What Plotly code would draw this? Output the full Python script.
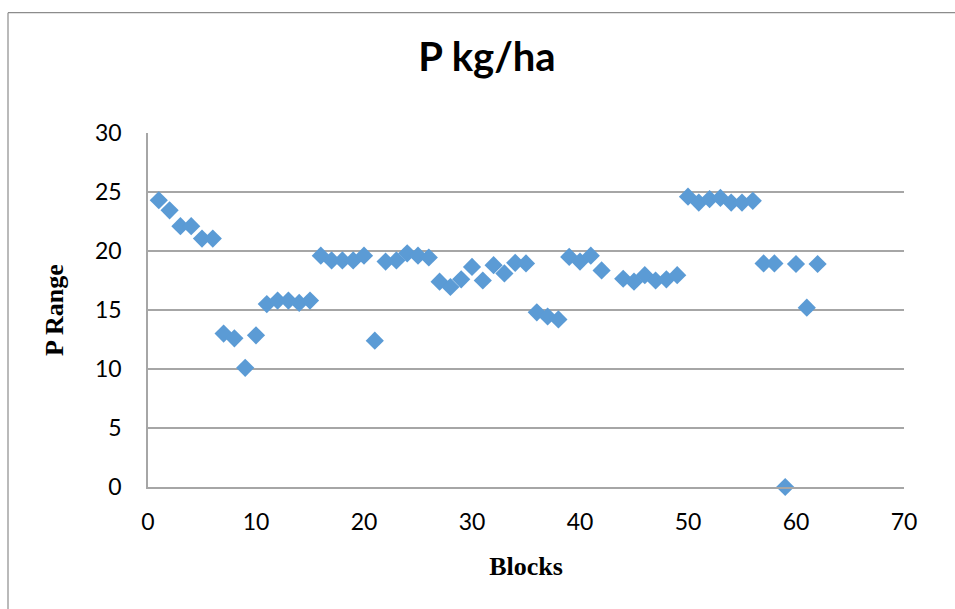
import plotly.graph_objects as go

blocks = [1, 2, 3, 4, 5, 6, 7, 8, 9, 10, 11, 12, 13, 14, 15, 16, 17, 18, 19, 20,
          21, 22, 23, 24, 25, 26, 27, 28, 29, 30, 31, 32, 33, 34, 35, 36, 37, 38, 39, 40,
          41, 42, 44, 45, 46, 47, 48, 49, 50, 51, 52, 53, 54, 55, 56, 57, 58, 59, 60,
          61, 62]
p_range = [24.3, 23.45, 22.1, 22.1, 21.05, 21.05, 13.0, 12.6, 10.1, 12.85,
           15.5, 15.8, 15.8, 15.6, 15.8, 19.6, 19.2, 19.2, 19.2, 19.6,
           12.4, 19.1, 19.2, 19.8, 19.6, 19.45, 17.4, 16.95, 17.6, 18.65,
           17.5, 18.8, 18.1, 19.0, 18.95, 14.8, 14.45, 14.2, 19.5, 19.1,
           19.6, 18.35, 17.65, 17.4, 17.95, 17.5, 17.6, 17.95, 24.6, 24.1,
           24.4, 24.5, 24.1, 24.1, 24.25, 18.95, 18.95, 0.0, 18.9, 15.2, 18.9]

title_text = "P kg/ha"
x_title = "Blocks"
y_title = "P Range"

W, H = 955, 609
L, R, T, B = 148, 51, 133, 122
pw, ph = W - L - R, H - T - B

def px(xp):
    return (xp - L) / pw

def py(yp):
    return (H - B - yp) / ph

fig = go.Figure()
fig.add_trace(go.Scatter(
    x=blocks, y=p_range, mode="markers",
    marker=dict(symbol="diamond", size=14, color="#5B9BD5", line=dict(width=0)),
    cliponaxis=False, showlegend=False,
))

grid = "#A6A6A6"
tick_font = dict(family="Lato, Carlito, sans-serif", size=23, color="#000000")
axis_title_font = dict(family="Liberation Serif, Times New Roman, serif", size=26, color="#000000")

fig.update_layout(
    width=W, height=H,
    margin=dict(l=L, r=R, t=T, b=B, pad=0),
    paper_bgcolor="white", plot_bgcolor="white",
    title=dict(text="<b>" + title_text + "</b>", x=487 / W, xref="container", xanchor="center",
               y=1 - 57 / H, yanchor="middle", yref="container",
               font=dict(family="Lato, Carlito, sans-serif", size=40, color="#000000")),
    xaxis=dict(range=[0, 70], dtick=10, tick0=0, showgrid=False, zeroline=False,
               showline=True, linecolor=grid, linewidth=1.5,
               ticks="", tickfont=tick_font, ticklabelstandoff=14,
               title=dict(text="<b>" + x_title + "</b>", font=axis_title_font, standoff=22)),
    yaxis=dict(range=[0, 30], dtick=5, tick0=0, showgrid=True, gridcolor=grid, gridwidth=1.5,
               zeroline=False, showline=True, linecolor=grid, linewidth=1.5,
               ticks="", tickfont=tick_font, ticklabelstandoff=20,
               title=dict(text="<b>" + y_title + "</b>", font=axis_title_font, standoff=24)),
    shapes=[
        dict(type="line", xref="paper", yref="paper", x0=px(8), x1=px(8), y0=py(H + 5), y1=py(12.7),
             line=dict(color="#8C8C8C", width=1.2)),
        dict(type="line", xref="paper", yref="paper", x0=px(8), x1=px(W + 5), y0=py(12.7), y1=py(12.7),
             line=dict(color="#8C8C8C", width=1.2)),
    ],
)

fig.write_html("out.html")
